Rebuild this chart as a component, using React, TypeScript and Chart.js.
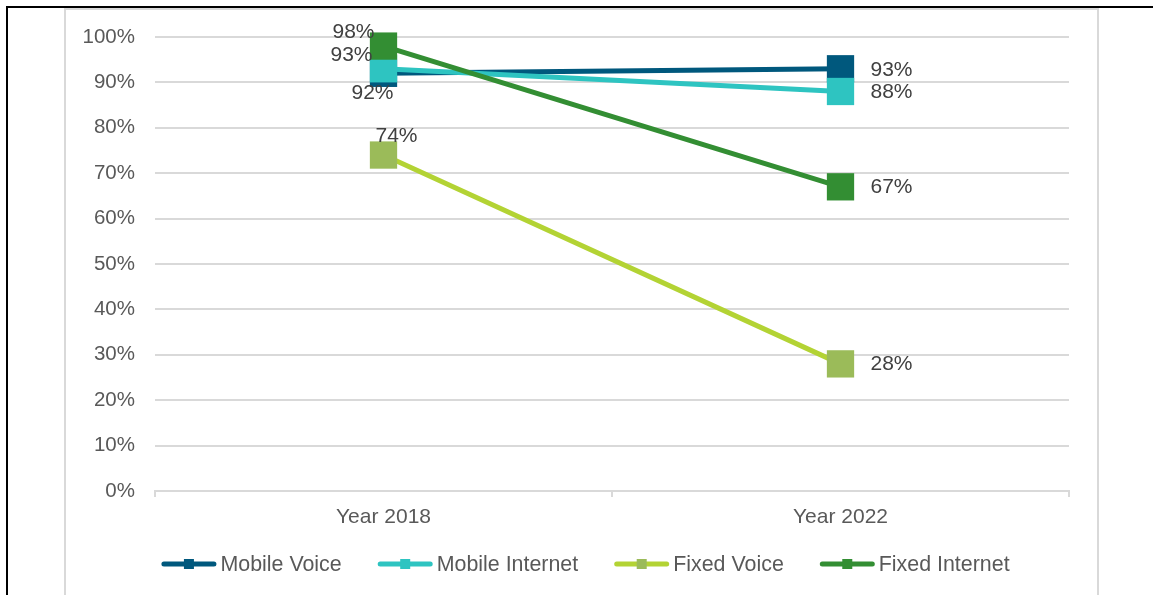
import React, { useEffect, useRef } from 'react';
import { Chart, registerables } from 'chart.js';

Chart.register(...registerables);

// ---------- data ----------
const categories = ['Year 2018', 'Year 2022'];
const seriesNames = ['Mobile Voice', 'Mobile Internet', 'Fixed Voice', 'Fixed Internet'];
const mobileVoice = [92, 93];
const mobileInternet = [93, 88];
const fixedVoice = [74, 28];
const fixedInternet = [98, 67];
const yMin = 0;
const yMax = 100;
const yStep = 10;

// ---------- styles ----------
const FONT = '"Liberation Sans", Arial, Helvetica, sans-serif';
const lineColors = ['#00587d', '#2ec4c1', '#b3d334', '#338e33'];
const markerColors = ['#00587d', '#2ec4c1', '#9bbb59', '#338e33'];
const drawOrder = [4, 3, 2, 1];
// label placement per dataset per point: [dx, dy, align]
const labelPlacement: [number, number, CanvasTextAlign][][] = [
  [[-11, 20, 'center'], [30, 1, 'left']],
  [[-32, -14, 'center'], [30, 1, 'left']],
  [[13, -19, 'center'], [30, 0, 'left']],
  [[-30, -14, 'center'], [30, 0, 'left']],
];

const frameLines = {
  id: 'frameLines',
  beforeDraw(chart: any) {
    const ctx = chart.ctx;
    ctx.save();
    ctx.fillStyle = '#ffffff';
    ctx.fillRect(0, 0, chart.width, chart.height);
    ctx.strokeStyle = '#d9d9d9';
    ctx.lineWidth = 2;
    ctx.beginPath();
    ctx.moveTo(65, chart.height);
    ctx.lineTo(65, 9);
    ctx.lineTo(1098, 9);
    ctx.lineTo(1098, chart.height);
    ctx.stroke();
    ctx.fillStyle = '#000000';
    ctx.fillRect(6, 6, chart.width - 6, 2);
    ctx.fillRect(6, 6, 2, chart.height - 6);
    ctx.restore();
  },
};

const dataLabels = {
  id: 'dataLabels',
  afterDatasetsDraw(chart: any) {
    const ctx = chart.ctx;
    ctx.save();
    ctx.font = `21px ${FONT}`;
    ctx.fillStyle = '#404040';
    ctx.textBaseline = 'middle';
    chart.data.datasets.forEach((ds: any, i: number) => {
      const meta = chart.getDatasetMeta(i);
      meta.data.forEach((pt: any, j: number) => {
        const [dx, dy, align] = labelPlacement[i][j];
        ctx.textAlign = align;
        ctx.fillText(`${ds.data[j]}%`, pt.x + dx, pt.y + dy);
      });
    });
    ctx.restore();
  },
};

const customLegend = {
  id: 'customLegend',
  afterDraw(chart: any) {
    const ctx = chart.ctx;
    ctx.save();
    ctx.font = `21.4px ${FONT}`;
    ctx.textBaseline = 'middle';
    ctx.textAlign = 'left';
    const lineLen = 55;
    const gapText = 4;
    const gapItem = 36;
    const widths = chart.data.datasets.map((d: any) => ctx.measureText(d.label).width);
    const total = widths.reduce((a: number, b: number) => a + b, 0) + chart.data.datasets.length * (lineLen + gapText) + gapItem * (chart.data.datasets.length - 1);
    let x = 585.5 - total / 2;
    const y = 564;
    chart.data.datasets.forEach((d: any, i: number) => {
      ctx.strokeStyle = d.borderColor;
      ctx.lineWidth = 5;
      ctx.lineCap = 'round';
      ctx.beginPath();
      ctx.moveTo(x + 2.5, y);
      ctx.lineTo(x + lineLen - 2.5, y);
      ctx.stroke();
      ctx.fillStyle = d.pointBackgroundColor;
      ctx.fillRect(x + lineLen / 2 - 5, y - 5, 10, 10);
      ctx.fillStyle = '#595959';
      ctx.fillText(d.label, x + lineLen + gapText, y + 1);
      x += lineLen + gapText + widths[i] + gapItem;
    });
    ctx.restore();
  },
};

export default function App() {
  const ref = useRef<HTMLCanvasElement | null>(null);

  useEffect(() => {
    if (!ref.current) return;
    const seriesData = [mobileVoice, mobileInternet, fixedVoice, fixedInternet];
    const chart = new Chart(ref.current, {
      type: 'line',
      data: {
        labels: categories,
        datasets: seriesNames.map((name, i) => ({
          label: name,
          data: seriesData[i],
          borderColor: lineColors[i],
          backgroundColor: markerColors[i],
          pointBackgroundColor: markerColors[i],
          pointBorderWidth: 0,
          pointStyle: 'rect',
          pointRadius: 19.3,
          pointHoverRadius: 19.3,
          borderWidth: 5,
          borderCapStyle: 'round',
          tension: 0,
          clip: false,
          order: drawOrder[i],
        })),
      },
      options: {
        responsive: false,
        devicePixelRatio: 1,
        animation: false,
        events: [],
        layout: { padding: { left: 65, top: 37, right: 84, bottom: 0 } },
        plugins: {
          legend: { display: false },
          tooltip: { enabled: false },
        },
        scales: {
          x: {
            type: 'category',
            offset: true,
            grid: {
              offset: true,
              drawOnChartArea: false,
              drawTicks: true,
              tickLength: 6,
              color: '#d9d9d9',
              lineWidth: 2,
            },
            border: { display: true, color: '#d9d9d9', width: 2 },
            ticks: { padding: 8, color: '#595959', font: { family: FONT, size: 21 } },
            afterFit: (s: any) => { s.height = 104; },
          },
          y: {
            min: yMin,
            max: yMax,
            grid: { color: '#d9d9d9', lineWidth: 2, drawTicks: false },
            border: { display: false },
            ticks: {
              stepSize: yStep,
              padding: 20,
              color: '#595959',
              font: { family: FONT, size: 20.5 },
              callback: (v: any) => `${v}%`,
            },
            afterFit: (s: any) => { s.width = 90; },
          },
        },
      },
      plugins: [frameLines, dataLabels, customLegend],
    } as any);
    return () => chart.destroy();
  }, []);

  return (
    <div style={{ position: 'fixed', left: 0, top: 0, width: 1153, height: 595, background: '#fff' }}>
      <canvas ref={ref} width={1153} height={595} style={{ display: 'block', width: 1153, height: 595 }} />
    </div>
  );
}
